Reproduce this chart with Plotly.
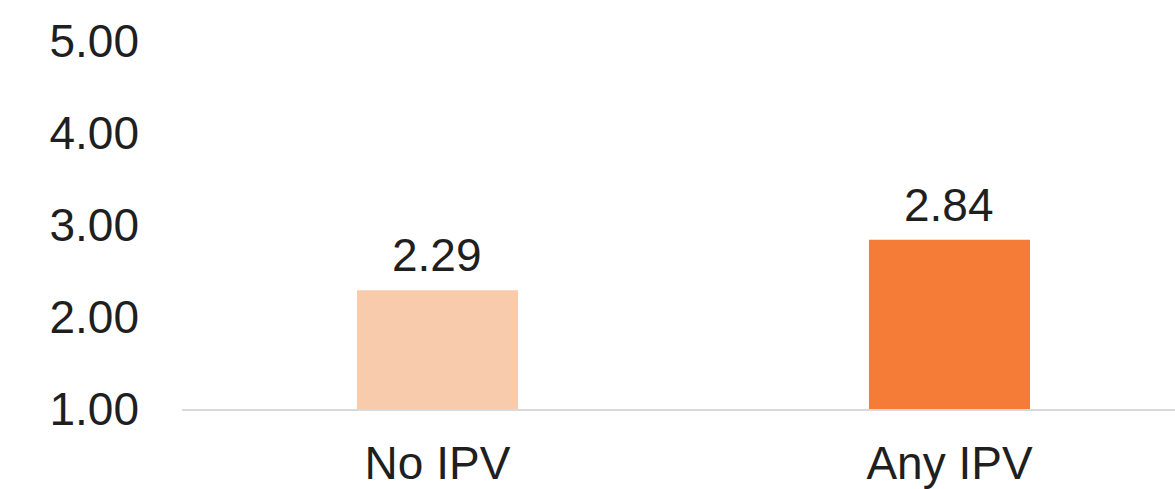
import plotly.graph_objects as go

categories = ["No IPV", "Any IPV"]
values = [2.29, 2.84]
bar_colors = ["#F8CBAD", "#F47C36"]
y_ticks = [1, 2, 3, 4, 5]

FONT = "Liberation Sans, Arial, sans-serif"
TXT = "#1f1f1f"

fig = go.Figure()
fig.add_trace(go.Bar(
    x=categories,
    y=values,
    marker=dict(color=bar_colors, line=dict(width=0)),
    width=0.3145,
    hoverinfo="skip",
))

for c, v in zip(categories, values):
    fig.add_annotation(
        x=c, y=v, xref="x", yref="y",
        text=f"{v:.2f}",
        showarrow=False,
        yanchor="bottom",
        yshift=7,
        font=dict(family=FONT, size=46, color=TXT),
    )

fig.update_layout(
    width=1175,
    height=489,
    margin=dict(l=182, r=0, t=41, b=80),
    paper_bgcolor="white",
    plot_bgcolor="white",
    showlegend=False,
    font=dict(family=FONT, size=46, color=TXT),
    xaxis=dict(
        range=[-0.499, 1.4405],
        showline=True,
        linecolor="#d9d9d9",
        linewidth=2,
        showgrid=False,
        ticks="",
        tickfont=dict(size=46, color=TXT),
        ticklabelstandoff=13,
    ),
    yaxis=dict(
        range=[1, 5],
        tickvals=y_ticks,
        tickformat=".2f",
        showgrid=False,
        zeroline=False,
        showline=False,
        ticks="",
        tickfont=dict(size=46, color=TXT),
        ticklabelstandoff=42,
    ),
)

fig.write_html(
    "out.html",
    config={"displayModeBar": False},
    post_script="document.body.style.margin='0';document.body.style.overflow='hidden';",
)
